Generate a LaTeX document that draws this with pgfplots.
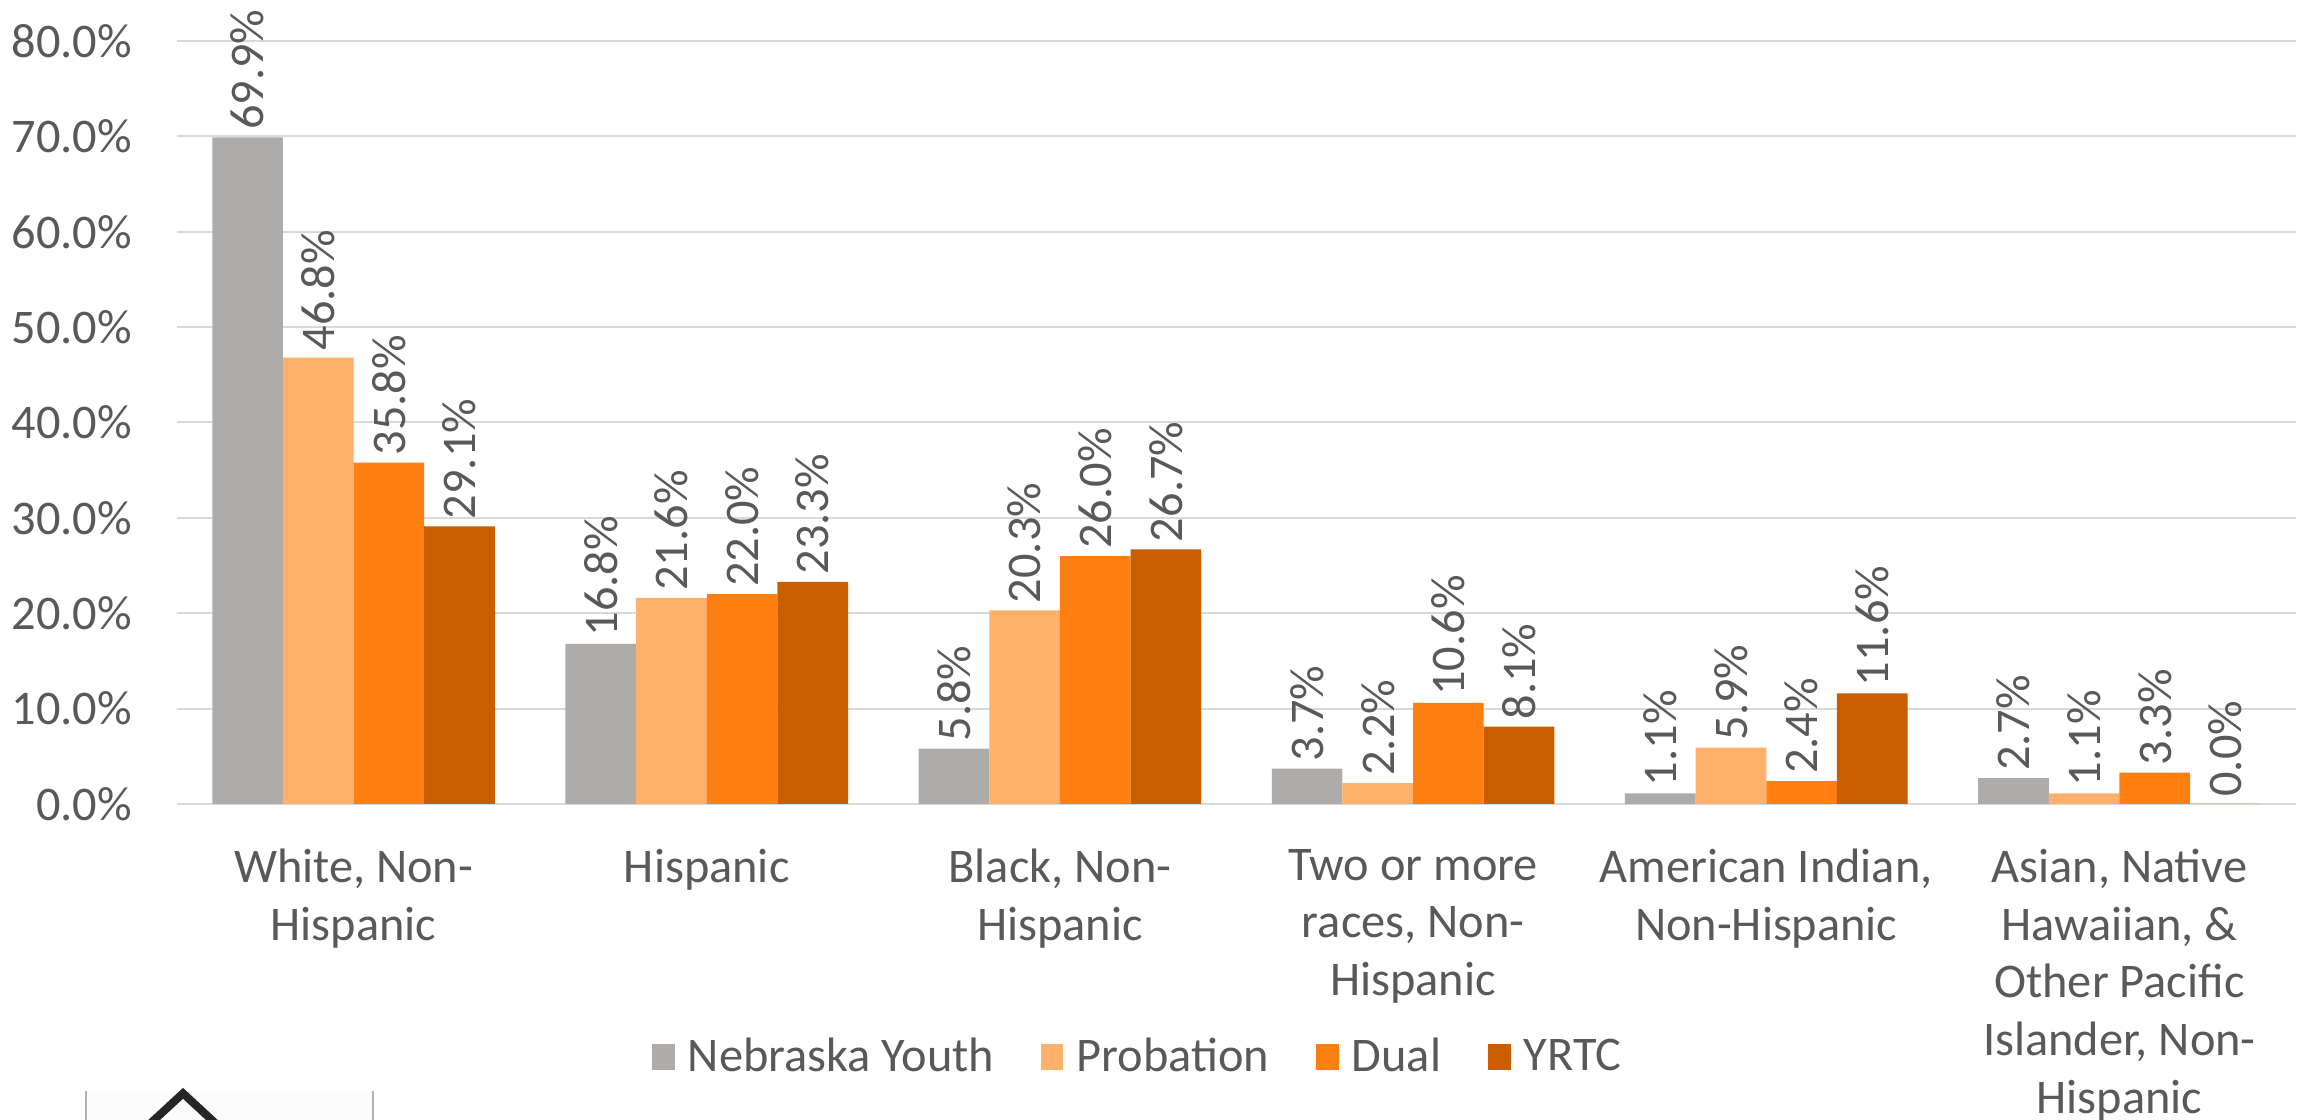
\documentclass[border=0pt]{standalone}
\usepackage{pgfplots}
\pgfplotsset{compat=1.18}
\usepackage{fontspec}
\setmainfont{Carlito}
\definecolor{cgrey}{HTML}{AEABAB}
\definecolor{clight}{HTML}{FFB16C}
\definecolor{corange}{HTML}{FF8011}
\definecolor{cdark}{HTML}{C85E00}
\definecolor{ctext}{HTML}{595959}
\definecolor{cgrid}{HTML}{D9D9D9}
\begin{document}
\begin{tikzpicture}
\path[use as bounding box, clip] (0,0) rectangle (692.4pt,336pt);
\fill[white] (0,0) rectangle (692.4pt,336pt);
% logo fragment
\fill[black!1] (25.8pt,0) rectangle (111.9pt,8.7pt);
\draw[black!30, line width=0.5pt] (25.8pt,0) -- (25.8pt,8.7pt) (111.9pt,0) -- (111.9pt,8.7pt);
\draw[black!85, line width=2.4pt] (43pt,-3pt) -- (54.9pt,8.0pt) -- (66.8pt,-3pt);
\begin{axis}[
  at={(53.1pt,94.8pt)}, anchor=south west,
  scale only axis, width=635.7pt, height=228.9pt,
  xmin=-0.5, xmax=5.5, ymin=0, ymax=80,
  clip=false,
  axis line style={draw=none},
  ymajorgrids, grid style={cgrid, line width=0.6pt},
  major tick length=0pt,
  ytick={0,10,...,80},
  /pgf/number format/assume math mode=true,
  yticklabel={\pgfmathprintnumber[fixed,fixed zerofill,precision=1]{\tick}\%},
  yticklabel style={font=\fontsize{14.5}{17}\selectfont, text=ctext, xshift=-10pt},
  xtick={0,1,2,3,4,5},
  xticklabels={{White, Non-\\Hispanic},{Hispanic},{Black, Non-\\Hispanic},{Two or more\\races, Non-\\Hispanic},{American Indian,\\Non-Hispanic},{Asian, Native\\Hawaiian, \&\\Other Pacific\\Islander, Non-\\Hispanic}},
  xticklabel style={font=\fontsize{14.5}{17.3}\selectfont, text=ctext, align=center, anchor=north, yshift=-10pt},
  ybar, bar width=0.2,
  point meta=y,
  nodes near coords={\pgfmathprintnumber[fixed,fixed zerofill,precision=1]{\pgfplotspointmeta}\%},
  nodes near coords style={font=\fontsize{14.5}{17}\selectfont, text=ctext, rotate=90, anchor=west, inner sep=2pt},
  legend style={at={(0.4545,-0.3316)}, anchor=center, draw=none, fill=none,
    font=\fontsize{14.5}{17}\selectfont, text=ctext, legend columns=4,
    /tikz/every odd column/.append style={column sep=2pt},
    /tikz/every even column/.append style={column sep=12pt}},
  legend image code/.code={\fill[#1] (0pt,-3.8pt) rectangle (6.8pt,3.8pt);},
]
\addplot[fill=cgrey, draw=none, bar shift=-0.3] coordinates {(0,69.9) (1,16.8) (2,5.8) (3,3.7) (4,1.1) (5,2.7)};
\addplot[fill=clight, draw=none, bar shift=-0.1] coordinates {(0,46.8) (1,21.6) (2,20.3) (3,2.2) (4,5.9) (5,1.1)};
\addplot[fill=corange, draw=none, bar shift=0.1] coordinates {(0,35.8) (1,22.0) (2,26.0) (3,10.6) (4,2.4) (5,3.3)};
\addplot[fill=cdark, draw=none, bar shift=0.3] coordinates {(0,29.1) (1,23.3) (2,26.7) (3,8.1) (4,11.6) (5,0.0)};
\legend{Nebraska Youth, Probation, Dual, YRTC}
\end{axis}
\end{tikzpicture}
\end{document}
